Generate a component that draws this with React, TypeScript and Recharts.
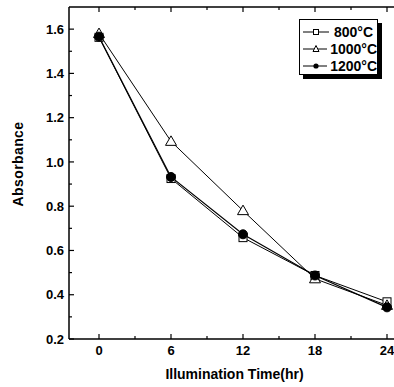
import { LineChart, Line, XAxis, YAxis, Legend, Label, ReferenceLine } from 'recharts';

// Absorbance vs illumination time
const hours = [0, 6, 12, 18, 24];
const abs800 = [1.563, 0.925, 0.658, 0.487, 0.368];
const abs1000 = [1.58, 1.093, 0.78, 0.472, 0.352];
const abs1200 = [1.566, 0.932, 0.673, 0.487, 0.343];

const seriesNames = ['800°C', '1000°C', '1200°C'];

const xTicks = [0, 3, 6, 9, 12, 15, 18, 21, 24];
const xLabels = [0, 6, 12, 18, 24];
const yTicks = [0.2, 0.3, 0.4, 0.5, 0.6, 0.7, 0.8, 0.9, 1.0, 1.1, 1.2, 1.3, 1.4, 1.5, 1.6];

const data = hours.map((h, i) => ({
  hour: h,
  a800: abs800[i],
  a1000: abs1000[i],
  a1200: abs1200[i],
}));

const FONT = '"Liberation Sans", Arial, Helvetica, sans-serif';
const X_GAP = 7;
const Y_GAP = 5;
const Y_MAX = 1.7;

function BottomTick(props: any) {
  const { x, y, payload } = props;
  const major = xLabels.includes(payload.value);
  const axisY = y - X_GAP;
  return (
    <g>
      <line x1={x} x2={x} y1={axisY} y2={axisY - (major ? 5 : 3)} stroke="#000" strokeWidth={1.2} />
      {major && (
        <text x={x} y={y + 9} textAnchor="middle" fontFamily={FONT} fontWeight="bold" fontSize={13} fill="#000">
          {payload.value}
        </text>
      )}
    </g>
  );
}

function LeftTick(props: any) {
  const { x, y, payload } = props;
  const major = Math.round(payload.value * 10) % 2 === 0;
  const axisX = x + Y_GAP;
  return (
    <g>
      <line x1={axisX} x2={axisX + (major ? 5 : 3)} y1={y} y2={y} stroke="#000" strokeWidth={1.2} />
      {major && (
        <text x={x} y={y + 4.6} textAnchor="end" fontFamily={FONT} fontWeight="bold" fontSize={13} fill="#000">
          {payload.value.toFixed(1)}
        </text>
      )}
    </g>
  );
}

const squareDot = (p: any) => (
  <rect key={`sq-${p.index}`} x={p.cx - 4} y={p.cy - 4} width={8} height={8} fill="#fff" stroke="#000" strokeWidth={1} />
);
const triangleDot = (p: any) => (
  <path
    key={`tr-${p.index}`}
    d={`M${p.cx},${p.cy - 5.5} L${p.cx + 5.5},${p.cy + 4} L${p.cx - 5.5},${p.cy + 4} Z`}
    fill="#fff"
    stroke="#000"
    strokeWidth={1}
  />
);
const circleDot = (p: any) => <circle key={`ci-${p.index}`} cx={p.cx} cy={p.cy} r={4.5} fill="#000" stroke="#000" />;

function LegendIcon({ index }: { index: number }) {
  return (
    <svg width={28} height={10} style={{ display: 'block', marginRight: 3 }}>
      <line x1={0} x2={26} y1={5} y2={5} stroke="#000" strokeWidth={1} />
      {index === 0 && <rect x={10.5} y={2.5} width={5} height={5} fill="#fff" stroke="#000" />}
      {index === 1 && <path d="M13,1.5 L16,7.5 L10,7.5 Z" fill="#fff" stroke="#000" />}
      {index === 2 && <circle cx={13} cy={5} r={2.6} fill="#000" />}
    </svg>
  );
}

function LegendBox(props: any) {
  // keep the series order (recharts sorts the payload by name)
  const items = [...(props.payload || [])].sort(
    (a: any, b: any) => seriesNames.indexOf(a.value) - seriesNames.indexOf(b.value),
  );
  return (
    <div
      style={{
        boxSizing: 'border-box',
        width: 79,
        height: 56,
        border: '1px solid #000',
        boxShadow: '4px 4px 0 #000',
        background: '#fff',
        paddingTop: 3,
        paddingLeft: 3,
        fontFamily: FONT,
        fontWeight: 'bold',
        fontSize: 14,
        color: '#000',
      }}
    >
      {items.map((it: any) => (
        <div key={it.value} style={{ display: 'flex', alignItems: 'center', height: 17.3, whiteSpace: 'nowrap' }}>
          <LegendIcon index={seriesNames.indexOf(it.value)} />
          <span>{it.value}</span>
        </div>
      ))}
    </div>
  );
}

export default function App() {
  return (
    <div style={{ position: 'absolute', left: 0, top: 0, width: 394, height: 387, overflow: 'hidden', background: '#fff' }}>
      <LineChart width={420} height={387} data={data} margin={{ top: 7, right: 3, bottom: 0, left: 0 }}>
        <XAxis
          dataKey="hour"
          type="number"
          domain={[-2.5, 26.5]}
          ticks={xTicks}
          interval={0}
          height={48}
          tickSize={0}
          tickMargin={X_GAP}
          tick={BottomTick}
          axisLine={{ stroke: '#000', strokeWidth: 1.5 }}
        >
          <Label
            content={(p: any) => (
              <text
                x={p.viewBox.x + p.viewBox.width / 2 - 8.5}
                y={p.viewBox.y + 40}
                textAnchor="middle"
                fontFamily={FONT}
                fontWeight="bold"
                fontSize={14}
                fill="#000"
              >
                Illumination Time(hr)
              </text>
            )}
          />
        </XAxis>
        <YAxis
          type="number"
          domain={[0.2, Y_MAX]}
          ticks={yTicks}
          interval={0}
          width={69}
          tickSize={0}
          tickMargin={Y_GAP}
          tick={LeftTick}
          axisLine={{ stroke: '#000', strokeWidth: 1.5 }}
        >
          <Label
            content={(p: any) => {
              const cx = 18;
              const cy = p.viewBox.y + p.viewBox.height / 2 - 9;
              return (
                <text
                  x={cx}
                  y={cy}
                  transform={`rotate(-90, ${cx}, ${cy})`}
                  textAnchor="middle"
                  dominantBaseline="central"
                  fontFamily={FONT}
                  fontWeight="bold"
                  fontSize={14}
                  letterSpacing={0.4}
                  fill="#000"
                >
                  Absorbance
                </text>
              );
            }}
          />
        </YAxis>
        {/* top frame with inward ticks */}
        <ReferenceLine y={Y_MAX} ifOverflow="visible" stroke="#000" strokeWidth={1.5} />
        {xTicks.map((t) => (
          <ReferenceLine
            key={`top-${t}`}
            ifOverflow="visible"
            segment={[
              { x: t, y: Y_MAX },
              { x: t, y: Y_MAX - (xLabels.includes(t) ? 0.0226 : 0.0136) },
            ]}
            stroke="#000"
            strokeWidth={1.2}
          />
        ))}
        <Legend
          layout="vertical"
          align="center"
          verticalAlign="middle"
          wrapperStyle={{ left: 299, top: 19, width: 'auto' }}
          content={LegendBox}
        />
        <Line name={seriesNames[0]} dataKey="a800" stroke="#000" strokeWidth={1} dot={squareDot} activeDot={false} isAnimationActive={false} />
        <Line name={seriesNames[1]} dataKey="a1000" stroke="#000" strokeWidth={1} dot={triangleDot} activeDot={false} isAnimationActive={false} />
        <Line name={seriesNames[2]} dataKey="a1200" stroke="#000" strokeWidth={1.2} dot={circleDot} activeDot={false} isAnimationActive={false} />
      </LineChart>
    </div>
  );
}
